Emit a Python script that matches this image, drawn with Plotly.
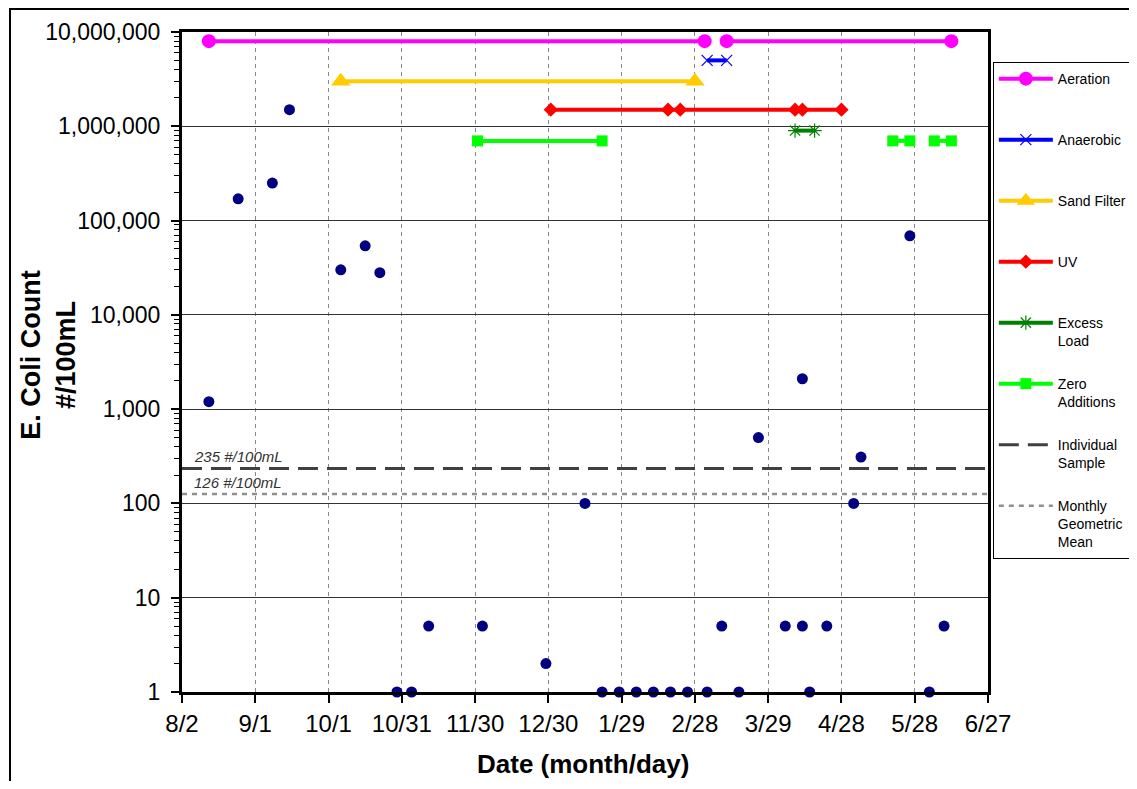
import plotly.graph_objects as go

# ---------------- data ----------------
sample_dates = ["2007-08-13", "2007-08-25", "2007-09-08", "2007-09-15", "2007-10-06",
                "2007-10-16", "2007-10-22", "2007-10-29", "2007-11-04", "2007-11-11",
                "2007-12-03", "2007-12-29", "2008-01-14", "2008-01-21", "2008-01-28",
                "2008-02-04", "2008-02-11", "2008-02-18", "2008-02-25", "2008-03-04",
                "2008-03-10", "2008-03-17", "2008-03-25", "2008-04-05", "2008-04-12",
                "2008-04-12", "2008-04-15", "2008-04-22", "2008-05-03", "2008-05-06",
                "2008-05-26", "2008-06-03", "2008-06-09"]
ecoli_counts = [1200, 170000, 250000, 1500000, 30000,
                54000, 28000, 1, 1, 5,
                5, 2, 100, 1, 1,
                1, 1, 1, 1, 1,
                5, 1, 500, 5, 2100,
                5, 1, 5, 100, 310,
                69000, 1, 5]

aeration_dates = ["2007-08-13", "2008-03-03", None, "2008-03-12", "2008-06-12"]
aeration_level = [8000000, 8000000, None, 8000000, 8000000]

anaerobic_dates = ["2008-03-04", "2008-03-12"]
anaerobic_level = [5000000, 5000000]

sand_dates = ["2007-10-06", "2008-02-28"]
sand_level = [3000000, 3000000]

uv_dates = ["2007-12-31", "2008-02-17", "2008-02-22", "2008-04-09", "2008-04-12", "2008-04-28"]
uv_level = [1500000] * 6

excess_dates = ["2008-04-09", "2008-04-17"]
excess_level = [900000, 900000]

zero_dates = ["2007-12-01", "2008-01-21", None, "2008-05-19", "2008-05-26", None,
              "2008-06-05", "2008-06-12"]
zero_level = [700000, 700000, None, 700000, 700000, None, 700000, 700000]

ref_span = ["2007-08-02", "2008-06-27"]
individual_limit = 235
monthly_limit = 126

x_tickvals = ["2007-08-02", "2007-09-01", "2007-10-01", "2007-10-31", "2007-11-30",
              "2007-12-30", "2008-01-29", "2008-02-28", "2008-03-29", "2008-04-28",
              "2008-05-28", "2008-06-27"]
x_ticktext = ["8/2", "9/1", "10/1", "10/31", "11/30", "12/30", "1/29", "2/28",
              "3/29", "4/28", "5/28", "6/27"]
y_tickvals = [1, 10, 100, 1000, 10000, 100000, 1000000, 10000000]
y_ticktext = ["1", "10", "100", "1,000", "10,000", "100,000", "1,000,000", "10,000,000"]

FONT = "Arial, Liberation Sans, sans-serif"

fig = go.Figure()

def phase(name, group, xs, ys, color, symbol, size, mline=None):
    fig.add_trace(go.Scatter(
        x=xs, y=ys, name=name, legendgroup=group, mode="lines+markers",
        line=dict(color=color, width=4),
        marker=dict(color=color, symbol=symbol, size=size,
                    line=mline if mline else dict(width=0)),
        connectgaps=False, cliponaxis=False))

phase("Aeration<br> <br> ", "g1", aeration_dates, aeration_level, "#FF00FF", "circle", 14)
phase("Anaerobic<br> <br> ", "g2", anaerobic_dates, anaerobic_level, "#0000FF", "x-thin-open", 11,
      dict(color="#3333FF", width=1.2))
phase("Sand Filter<br> <br> ", "g3", sand_dates, sand_level, "#FFCC00", "triangle-up", 17)
phase("UV<br> <br> ", "g4", uv_dates, uv_level, "#FF0000", "diamond", 11)
phase("Excess<br>Load<br> ", "g5", excess_dates, excess_level, "#008000", "asterisk-open", 12,
      dict(color="#008000", width=1.2))
phase("Zero<br>Additions<br> ", "g6", zero_dates, zero_level, "#00FF00", "square", 11)

fig.add_trace(go.Scatter(
    x=ref_span, y=[individual_limit, individual_limit], mode="lines",
    name="Individual<br>Sample<br> ", legendgroup="g7",
    line=dict(color="#404040", width=3, dash="20px,9px")))
fig.add_trace(go.Scatter(
    x=ref_span, y=[monthly_limit, monthly_limit], mode="lines",
    name="Monthly<br>Geometric<br>Mean", legendgroup="g8",
    line=dict(color="#909090", width=2.5, dash="5px,5px")))

fig.add_trace(go.Scatter(
    x=sample_dates, y=ecoli_counts, mode="markers", showlegend=False,
    marker=dict(color="#000080", size=11, symbol="circle"), cliponaxis=False))

fig.add_annotation(x=0.012, xref="paper", xanchor="left", y=2.3711, yref="y",
                   yanchor="bottom", yshift=1, showarrow=False,
                   text="<i>235 #/100mL</i>", font=dict(family=FONT, size=15, color="#333333"))
fig.add_annotation(x=0.012, xref="paper", xanchor="left", y=2.1004, yref="y",
                   yanchor="bottom", yshift=1, showarrow=False,
                   text="<i>126 #/100mL</i>", font=dict(family=FONT, size=15, color="#333333"))

# axis titles
fig.add_annotation(x=-0.1656, xref="paper", y=0.5104, yref="paper",
                   xanchor="center", yanchor="middle", showarrow=False, textangle=-90,
                   text="<b>E. Coli Count<br>#/100mL</b>",
                   font=dict(family=FONT, size=27, color="black"))
fig.add_annotation(x=0.4975, xref="paper", y=-0.109, yref="paper",
                   xanchor="center", yanchor="middle", showarrow=False,
                   text="<b>Date (month/day)</b>",
                   font=dict(family=FONT, size=26, color="black"))

# outer chart-area frame
fig.add_shape(type="rect", xref="paper", yref="paper",
              x0=-0.2134, x1=1.5, y0=-0.5, y1=1.0349,
              line=dict(color="black", width=2), fillcolor="rgba(0,0,0,0)", layer="below")

fig.update_layout(
    paper_bgcolor="white", plot_bgcolor="white",
    margin=dict(l=174, r=141, t=24, b=89, autoexpand=False),
    font=dict(family=FONT, color="black"),
    showlegend=True,
    legend=dict(x=1.006, xanchor="left", y=0.9545, yanchor="top",
                bordercolor="black", borderwidth=1, bgcolor="white",
                font=dict(family=FONT, size=14, color="black"),
                valign="top", itemwidth=54, traceorder="grouped", tracegroupgap=3.4),
    xaxis=dict(type="date", range=["2007-08-02", "2008-06-27"],
               tickvals=x_tickvals, ticktext=x_ticktext,
               tickfont=dict(family=FONT, size=24, color="black"),
               ticks="outside", ticklen=8, tickcolor="black", tickwidth=1.5,
               showgrid=True, gridcolor="#888888", gridwidth=1, griddash="4px,4px",
               showline=True, linecolor="black", linewidth=3, mirror=True,
               zeroline=False),
    yaxis=dict(type="log", range=[0, 7],
               tickvals=y_tickvals, ticktext=y_ticktext,
               tickfont=dict(family=FONT, size=23, color="black"),
               ticks="outside", ticklen=8, tickcolor="black", tickwidth=1.5,
               ticklabelstandoff=6,
               minor=dict(ticks="outside", ticklen=5, tickcolor="black", tickwidth=1.2,
                          dtick="D1", showgrid=False),
               showgrid=True, gridcolor="#333333", gridwidth=1,
               showline=True, linecolor="black", linewidth=3, mirror=True,
               zeroline=False),
)

fig.write_html("out.html")
